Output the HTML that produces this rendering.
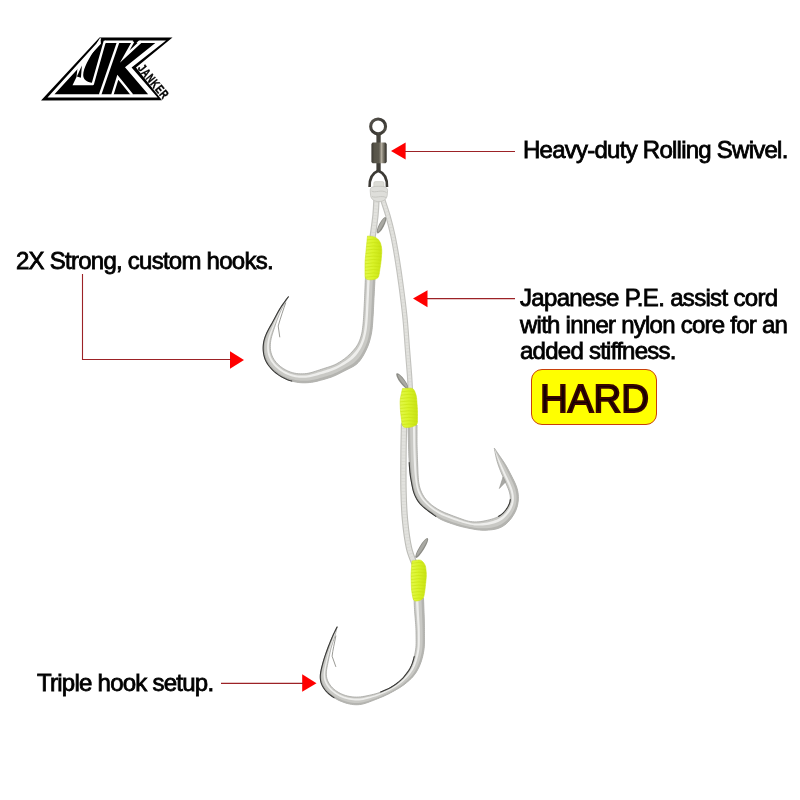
<!DOCTYPE html>
<html><head><meta charset="utf-8">
<style>
html,body{margin:0;padding:0;background:#fff;width:800px;height:800px;overflow:hidden}
.t{position:absolute;font-family:"Liberation Sans",sans-serif;font-size:24px;letter-spacing:-0.75px;color:#000;white-space:nowrap;line-height:26.5px;-webkit-text-stroke:0.8px #000;will-change:transform}
svg{position:absolute;left:0;top:0;will-change:transform}
</style></head><body>
<svg width="800" height="800" viewBox="0 0 800 800">
  <!-- arrows -->
  <g fill="#ff0000">
    <polygon points="391,151 405.6,142.4 405.6,159.4"/>
    <polygon points="413,298.6 427.5,290.3 427.5,307.2"/>
    <polygon points="244,360 230,351.25 230,368.75"/>
    <polygon points="316.5,683.2 302.2,674.25 302.2,691.75"/>
  </g>
  <g stroke="#9c2226" stroke-width="1.1" fill="none">
    <line x1="405" y1="151.5" x2="515" y2="151.5"/>
    <line x1="427" y1="298.6" x2="515" y2="298.6"/>
    <polyline points="82.5,274 82.5,359.5 231,359.5"/>
    <line x1="221" y1="683.4" x2="303" y2="683.4"/>
  </g>
  <!-- logo -->
  <g id="logo">
    <polygon fill="#000" points="41,100.5 99.5,37.5 172.5,37.5 136,67.4 162,100.2"/>
    <path fill="#fff" fill-rule="evenodd" d="M47.5,97.5 L99.2,40.5 L166,40.5 L131.6,67.4 L157.6,97.5 Z M54.5,94.25 L101.6,43 L155.3,43 L125,67.2 L148.1,94.25 Z"/>
    <polygon fill="#000" points="100.5,39 104.6,39 104.6,44.5 101,44.5"/>
    <polygon fill="#fff" points="96.6,43.4 99.8,38.2 101.2,38.2 99.6,43.4"/>
    <polygon fill="#000" points="133.6,39 140.2,39 128,52"/>
    <g stroke="#fff" stroke-width="2.4" fill="none" stroke-linejoin="miter" stroke-miterlimit="10">
      <polyline points="92.6,84.6 104.6,42 106,42"/>
      <line x1="100" y1="95" x2="118.2" y2="42"/>
      <polyline points="133.2,41.5 124.7,56.7 141,41.5"/>
      <polyline points="112.3,95 117.8,77.3 132.2,95"/>
    </g>
    <path fill="#fff" d="M72.5,85.2 L76.5,77 L77.6,67 L96.6,46.8 C88.5,59 83.4,68 83.2,75 C83.2,79.5 86.5,82 92.7,83 L93.2,85.2 Z"/>
    <polygon fill="#000" points="76.9,76.6 81.9,65.4 80.9,77.8"/>
    <g transform="translate(137.2,68.6) rotate(50.5)"><text x="0" y="0" transform="scale(0.72,1)" font-family="Liberation Sans" font-weight="bold" font-size="12.5" letter-spacing="0.9" fill="#000" stroke="#000" stroke-width="0.35">JANKER</text></g>
  </g>
  <!-- product -->
  <g id="product">
    <path d="M382.50,199.00 C383.42,201.83 386.25,209.83 388.00,216.00 C389.75,222.17 391.50,229.00 393.00,236.00 C394.50,243.00 395.67,249.83 397.00,258.00 C398.33,266.17 399.67,275.00 401.00,285.00 C402.33,295.00 403.92,307.17 405.00,318.00 C406.08,328.83 406.75,340.50 407.50,350.00 C408.25,359.50 409.00,368.00 409.50,375.00 C410.00,382.00 410.33,389.17 410.50,392.00" fill="none" stroke="#c2c2be" stroke-width="5.4" stroke-linecap="round"/>
    <path d="M382.50,199.00 C383.42,201.83 386.25,209.83 388.00,216.00 C389.75,222.17 391.50,229.00 393.00,236.00 C394.50,243.00 395.67,249.83 397.00,258.00 C398.33,266.17 399.67,275.00 401.00,285.00 C402.33,295.00 403.92,307.17 405.00,318.00 C406.08,328.83 406.75,340.50 407.50,350.00 C408.25,359.50 409.00,368.00 409.50,375.00 C410.00,382.00 410.33,389.17 410.50,392.00" fill="none" stroke="#e2e2de" stroke-width="3.2" stroke-linecap="round"/>
    <path d="M382.50,199.00 C383.42,201.83 386.25,209.83 388.00,216.00 C389.75,222.17 391.50,229.00 393.00,236.00 C394.50,243.00 395.67,249.83 397.00,258.00 C398.33,266.17 399.67,275.00 401.00,285.00 C402.33,295.00 403.92,307.17 405.00,318.00 C406.08,328.83 406.75,340.50 407.50,350.00 C408.25,359.50 409.00,368.00 409.50,375.00 C410.00,382.00 410.33,389.17 410.50,392.00" fill="none" stroke="#c8c8c2" stroke-width="3" stroke-dasharray="0.7 2.6" opacity="0.4"/>
    <path d="M404.00,425.00 C403.92,430.00 403.58,444.17 403.50,455.00 C403.42,465.83 403.25,479.17 403.50,490.00 C403.75,500.83 404.08,510.33 405.00,520.00 C405.92,529.67 407.33,540.50 409.00,548.00 C410.67,555.50 414.00,562.17 415.00,565.00" fill="none" stroke="#bdbdb8" stroke-width="6.4" stroke-linecap="round"/>
    <path d="M404.00,425.00 C403.92,430.00 403.58,444.17 403.50,455.00 C403.42,465.83 403.25,479.17 403.50,490.00 C403.75,500.83 404.08,510.33 405.00,520.00 C405.92,529.67 407.33,540.50 409.00,548.00 C410.67,555.50 414.00,562.17 415.00,565.00" fill="none" stroke="#e2e2de" stroke-width="4.2" stroke-linecap="round"/>
    <path d="M404.00,425.00 C403.92,430.00 403.58,444.17 403.50,455.00 C403.42,465.83 403.25,479.17 403.50,490.00 C403.75,500.83 404.08,510.33 405.00,520.00 C405.92,529.67 407.33,540.50 409.00,548.00 C410.67,555.50 414.00,562.17 415.00,565.00" fill="none" stroke="#c8c8c2" stroke-width="4" stroke-dasharray="0.7 2.6" opacity="0.4"/>
    <path d="M375.20,276.00 L374.97,279.98 L374.89,281.39 L374.79,283.12 L374.68,285.10 L374.56,287.25 L374.44,289.46 L374.33,291.71 L374.21,293.95 L374.10,296.20 L373.99,298.44 L373.89,300.68 L373.78,302.93 L373.67,305.17 L373.56,307.42 L373.45,309.66 L373.34,311.91 L373.22,314.15 L373.09,316.40 L372.95,318.64 L372.80,320.88 L372.64,323.12 L372.46,325.36 L372.26,327.60 L372.01,329.82 L371.69,332.04 L371.29,334.24 L370.82,336.43 L370.30,338.61 L369.71,340.78 L369.06,342.92 L368.33,345.03 L367.50,347.10 L366.59,349.15 L365.62,351.17 L364.60,353.16 L363.53,355.13 L362.39,357.05 L361.17,358.92 L359.85,360.70 L358.42,362.37 L356.85,363.88 L355.14,365.22 L353.29,366.41 L351.35,367.47 L349.36,368.48 L347.35,369.47 L345.34,370.47 L343.34,371.49 L341.35,372.52 L339.35,373.55 L337.35,374.55 L335.31,375.49 L333.25,376.35 L331.15,377.13 L329.03,377.85 L326.89,378.53 L324.74,379.17 L322.58,379.79 L320.41,380.37 L318.24,380.93 L316.05,381.45 L313.86,381.90 L311.66,382.27 L309.44,382.54 L307.21,382.71 L304.98,382.80 L302.74,382.79 L300.52,382.68 L298.30,382.45 L296.09,382.10 L293.91,381.65 L291.74,381.09 L289.61,380.44 L287.50,379.69 L285.44,378.83 L283.43,377.87 L281.47,376.80 L279.57,375.63 L277.73,374.37 L275.96,373.01 L274.25,371.57 L272.62,370.05 L271.08,368.44 L269.62,366.76 L268.29,364.99 L267.08,363.13 L266.02,361.19 L265.12,359.18 L264.41,357.10 L263.86,354.96 L263.48,352.78 L263.25,350.57 L263.16,348.35 L263.23,346.13 L263.43,343.92 L263.78,341.73 L264.29,339.58 L264.94,337.45 L265.73,335.37 L266.62,333.32 L267.59,331.31 L268.62,329.31 L269.69,327.34 L270.78,325.38 L271.88,323.41 L272.96,321.45 L274.03,319.47 L275.10,317.49 L276.15,315.51 L277.21,313.53 L278.29,311.56 L279.40,309.61 L280.56,307.69 L281.76,305.84 L282.98,304.07 L284.14,302.46 L285.16,301.07 L286.00,299.94 L288.40,296.75 L288.40,296.75 L286.64,299.79 L286.02,300.87 L285.27,302.19 L284.42,303.72 L283.52,305.39 L282.64,307.12 L281.77,308.90 L280.94,310.70 L280.14,312.51 L279.35,314.32 L278.59,316.15 L277.85,317.98 L277.15,319.83 L276.48,321.69 L275.83,323.56 L275.19,325.44 L274.57,327.31 L273.95,329.19 L273.33,331.08 L272.73,332.96 L272.16,334.85 L271.62,336.75 L271.16,338.66 L270.78,340.59 L270.51,342.54 L270.34,344.49 L270.28,346.45 L270.35,348.40 L270.56,350.33 L270.93,352.24 L271.46,354.11 L272.15,355.93 L272.98,357.69 L273.95,359.38 L275.05,360.99 L276.26,362.51 L277.59,363.95 L279.01,365.28 L280.52,366.54 L282.10,367.71 L283.74,368.79 L285.43,369.78 L287.18,370.68 L288.97,371.47 L290.80,372.15 L292.68,372.72 L294.59,373.16 L296.52,373.50 L298.47,373.72 L300.43,373.83 L302.40,373.84 L304.36,373.75 L306.31,373.56 L308.25,373.25 L310.16,372.83 L312.06,372.32 L313.95,371.75 L315.83,371.14 L317.71,370.52 L319.59,369.90 L321.47,369.28 L323.35,368.67 L325.24,368.07 L327.13,367.48 L329.01,366.88 L330.88,366.26 L332.73,365.58 L334.54,364.83 L336.30,363.97 L338.03,363.02 L339.71,362.00 L341.37,360.94 L343.01,359.83 L344.60,358.67 L346.15,357.45 L347.64,356.17 L349.08,354.82 L350.49,353.44 L351.86,352.02 L353.20,350.57 L354.49,349.08 L355.72,347.54 L356.84,345.95 L357.85,344.28 L358.73,342.54 L359.50,340.74 L360.19,338.90 L360.80,337.03 L361.34,335.14 L361.79,333.23 L362.15,331.29 L362.44,329.34 L362.69,327.38 L362.91,325.42 L363.11,323.45 L363.29,321.48 L363.45,319.50 L363.59,317.53 L363.71,315.55 L363.82,313.58 L363.92,311.60 L364.02,309.62 L364.12,307.65 L364.22,305.67 L364.31,303.69 L364.41,301.71 L364.50,299.74 L364.59,297.76 L364.67,295.78 L364.76,293.80 L364.84,291.82 L364.92,289.85 L365.01,287.87 L365.09,285.92 L365.17,284.03 L365.24,282.27 L365.30,280.75 L365.35,279.51 L365.50,276.00 Z" fill="#c9c9c5" stroke="#a6a6a2" stroke-width="0.8"/>
    <path d="M375.20,276.00 L374.97,279.98 L374.89,281.39 L374.79,283.12 L374.68,285.10 L374.56,287.25 L374.44,289.46 L374.33,291.71 L374.21,293.95 L374.10,296.20 L373.99,298.44 L373.89,300.68 L373.78,302.93 L373.67,305.17 L373.56,307.42 L373.45,309.66 L373.34,311.91 L373.22,314.15 L373.09,316.40 L372.95,318.64 L372.80,320.88 L372.64,323.12 L372.46,325.36 L372.26,327.60 L372.01,329.82 L371.69,332.04 L371.29,334.24 L370.82,336.43 L370.30,338.61 L369.71,340.78 L369.06,342.92 L368.33,345.03 L367.50,347.10 L366.59,349.15 L365.62,351.17 L364.60,353.16 L363.53,355.13 L362.39,357.05 L361.17,358.92 L359.85,360.70 L358.42,362.37 L356.85,363.88 L355.14,365.22 L353.29,366.41 L351.35,367.47 L349.36,368.48 L347.35,369.47 L345.34,370.47 L343.34,371.49 L341.35,372.52 L339.35,373.55 L337.35,374.55 L335.31,375.49 L333.25,376.35 L331.15,377.13 L329.03,377.85 L326.89,378.53 L324.74,379.17 L322.58,379.79 L320.41,380.37 L318.24,380.93 L316.05,381.45 L313.86,381.90 L311.66,382.27 L309.44,382.54 L307.21,382.71 L304.98,382.80 L302.74,382.79 L300.52,382.68 L298.30,382.45 L296.09,382.10 L293.91,381.65 L291.74,381.09 L289.61,380.44 L287.50,379.69 L285.44,378.83 L283.43,377.87 L281.47,376.80 L279.57,375.63 L277.73,374.37 L275.96,373.01 L274.25,371.57 L272.62,370.05 L271.08,368.44 L269.62,366.76 L268.29,364.99 L267.08,363.13 L266.02,361.19 L265.12,359.18 L264.41,357.10 L263.86,354.96 L263.48,352.78 L263.25,350.57 L263.16,348.35 L263.23,346.13 L263.43,343.92 L263.78,341.73 L264.29,339.58 L264.94,337.45 L265.73,335.37 L266.62,333.32 L267.59,331.31 L268.62,329.31 L269.69,327.34 L270.78,325.38 L271.88,323.41 L272.96,321.45 L274.03,319.47 L275.10,317.49 L276.15,315.51 L277.21,313.53 L278.29,311.56 L279.40,309.61 L280.56,307.69 L281.76,305.84 L282.98,304.07 L284.14,302.46 L285.16,301.07 L286.00,299.94 L288.40,296.75 L288.40,296.75 L286.14,299.91 L285.35,301.02 L284.39,302.40 L283.29,304.00 L282.15,305.74 L281.02,307.57 L279.92,309.45 L278.87,311.37 L277.86,313.30 L276.86,315.25 L275.87,317.20 L274.87,319.14 L273.88,321.09 L272.89,323.03 L271.89,324.98 L270.90,326.92 L269.93,328.87 L268.99,330.84 L268.10,332.83 L267.27,334.84 L266.53,336.88 L265.90,338.95 L265.41,341.06 L265.05,343.19 L264.83,345.34 L264.74,347.50 L264.79,349.66 L264.99,351.81 L265.34,353.94 L265.84,356.03 L266.52,358.06 L267.37,360.04 L268.38,361.93 L269.53,363.75 L270.82,365.49 L272.22,367.14 L273.72,368.70 L275.30,370.19 L276.96,371.59 L278.69,372.90 L280.49,374.13 L282.34,375.26 L284.25,376.29 L286.22,377.21 L288.23,378.03 L290.28,378.74 L292.37,379.35 L294.48,379.85 L296.62,380.26 L298.77,380.55 L300.93,380.74 L303.10,380.81 L305.27,380.77 L307.44,380.63 L309.60,380.40 L311.75,380.08 L313.88,379.67 L316.00,379.18 L318.12,378.64 L320.23,378.07 L322.33,377.48 L324.43,376.86 L326.53,376.23 L328.61,375.57 L330.68,374.88 L332.73,374.13 L334.75,373.31 L336.73,372.41 L338.68,371.44 L340.61,370.43 L342.54,369.40 L344.47,368.37 L346.39,367.35 L348.31,366.32 L350.21,365.27 L352.05,364.15 L353.81,362.93 L355.45,361.58 L356.98,360.09 L358.39,358.47 L359.70,356.75 L360.92,354.96 L362.06,353.11 L363.11,351.21 L364.10,349.27 L365.03,347.30 L365.89,345.30 L366.67,343.27 L367.37,341.21 L367.97,339.12 L368.51,337.00 L368.98,334.87 L369.40,332.73 L369.76,330.58 L370.05,328.42 L370.29,326.25 L370.48,324.07 L370.65,321.89 L370.80,319.71 L370.94,317.52 L371.07,315.34 L371.20,313.16 L371.31,310.97 L371.42,308.78 L371.53,306.60 L371.63,304.41 L371.74,302.23 L371.84,300.04 L371.94,297.86 L372.05,295.67 L372.15,293.48 L372.26,291.30 L372.37,289.11 L372.48,286.96 L372.59,284.87 L372.69,282.93 L372.78,281.25 L372.86,279.88 L373.07,276.00 Z" fill="#b4b4b0"/>
    <path d="M369.87,276.00 L369.68,279.72 L369.62,281.04 L369.54,282.65 L369.45,284.51 L369.35,286.52 L369.25,288.59 L369.15,290.68 L369.06,292.78 L368.96,294.88 L368.87,296.98 L368.77,299.08 L368.67,301.17 L368.58,303.27 L368.47,305.37 L368.37,307.47 L368.27,309.56 L368.16,311.66 L368.05,313.76 L367.93,315.85 L367.80,317.95 L367.66,320.05 L367.51,322.14 L367.33,324.23 L367.11,326.32 L366.86,328.40 L366.56,330.47 L366.22,332.53 L365.82,334.59 L365.36,336.62 L364.82,338.64 L364.19,340.63 L363.48,342.59 L362.69,344.52 L361.83,346.42 L360.89,348.28 L359.85,350.08 L358.72,351.82 L357.50,353.51 L356.20,355.13 L354.81,356.67 L353.35,358.14 L351.81,359.50 L350.18,360.77 L348.49,361.96 L346.74,363.08 L344.96,364.17 L343.16,365.23 L341.34,366.27 L339.52,367.30 L337.68,368.28 L335.80,369.20 L333.89,370.04 L331.95,370.80 L329.97,371.49 L327.98,372.15 L325.98,372.78 L323.98,373.40 L321.97,374.01 L319.96,374.61 L317.95,375.21 L315.93,375.78 L313.91,376.32 L311.88,376.80 L309.84,377.20 L307.78,377.51 L305.71,377.72 L303.63,377.82 L301.55,377.82 L299.47,377.71 L297.40,377.49 L295.35,377.16 L293.31,376.73 L291.30,376.19 L289.32,375.54 L287.38,374.78 L285.49,373.92 L283.65,372.94 L281.86,371.87 L280.13,370.70 L278.47,369.45 L276.87,368.11 L275.36,366.69 L273.93,365.18 L272.61,363.58 L271.40,361.90 L270.33,360.14 L269.39,358.30 L268.61,356.39 L267.99,354.43 L267.55,352.41 L267.26,350.37 L267.12,348.30 L267.11,346.23 L267.23,344.15 L267.47,342.09 L267.84,340.04 L268.32,338.02 L268.91,336.02 L269.58,334.05 L270.31,332.09 L271.09,330.14 L271.89,328.21 L272.72,326.29 L273.56,324.38 L274.41,322.47 L275.27,320.56 L276.14,318.65 L277.02,316.75 L277.91,314.86 L278.82,312.97 L279.75,311.09 L280.70,309.22 L281.70,307.38 L282.73,305.59 L283.77,303.88 L284.76,302.31 L285.64,300.96 L286.35,299.86 L288.40,296.75 L288.40,296.75 L286.51,299.82 L285.85,300.91 L285.04,302.25 L284.13,303.79 L283.17,305.48 L282.22,307.24 L281.30,309.04 L280.41,310.87 L279.55,312.71 L278.71,314.56 L277.89,316.42 L277.09,318.28 L276.31,320.15 L275.56,322.04 L274.82,323.92 L274.09,325.82 L273.38,327.71 L272.68,329.62 L271.99,331.53 L271.33,333.44 L270.72,335.37 L270.16,337.32 L269.68,339.28 L269.31,341.26 L269.05,343.25 L268.90,345.26 L268.87,347.27 L268.97,349.27 L269.22,351.26 L269.62,353.21 L270.19,355.12 L270.92,356.98 L271.80,358.77 L272.82,360.50 L273.97,362.14 L275.23,363.70 L276.60,365.17 L278.06,366.54 L279.61,367.83 L281.22,369.04 L282.90,370.16 L284.64,371.19 L286.43,372.12 L288.26,372.94 L290.14,373.66 L292.07,374.26 L294.02,374.75 L296.00,375.13 L298.00,375.40 L300.01,375.56 L302.02,375.61 L304.04,375.56 L306.04,375.41 L308.04,375.14 L310.02,374.77 L311.98,374.31 L313.93,373.78 L315.87,373.20 L317.82,372.60 L319.75,372.00 L321.69,371.38 L323.63,370.77 L325.57,370.16 L327.51,369.55 L329.44,368.93 L331.36,368.28 L333.25,367.56 L335.10,366.77 L336.91,365.89 L338.69,364.92 L340.44,363.90 L342.17,362.84 L343.87,361.76 L345.55,360.63 L347.19,359.45 L348.77,358.21 L350.29,356.90 L351.76,355.53 L353.18,354.09 L354.53,352.59 L355.83,351.05 L357.05,349.44 L358.18,347.78 L359.20,346.06 L360.11,344.27 L360.92,342.42 L361.65,340.54 L362.31,338.63 L362.89,336.70 L363.38,334.74 L363.78,332.76 L364.12,330.76 L364.41,328.75 L364.66,326.74 L364.89,324.72 L365.08,322.70 L365.25,320.68 L365.40,318.65 L365.53,316.62 L365.64,314.59 L365.75,312.56 L365.86,310.53 L365.96,308.50 L366.06,306.47 L366.16,304.44 L366.26,302.41 L366.35,300.37 L366.45,298.34 L366.54,296.31 L366.63,294.28 L366.72,292.25 L366.80,290.22 L366.89,288.19 L366.98,286.18 L367.07,284.24 L367.15,282.44 L367.22,280.88 L367.28,279.61 L367.44,276.00 Z" fill="#eeeeec"/>
    <path d="M291.74,381.09 L289.61,380.44 L287.50,379.69 L285.44,378.83 L283.43,377.87 L281.47,376.80 L279.57,375.63 L277.73,374.37 L275.96,373.01 L274.25,371.57 L272.62,370.05 L271.08,368.44 L269.62,366.76 L268.29,364.99 L267.08,363.13 L266.02,361.19 L265.12,359.18 L264.41,357.10 L263.86,354.96 L263.48,352.78 L263.25,350.57 L263.16,348.35 L263.23,346.13 L263.43,343.92 L263.78,341.73 L264.29,339.58 L264.94,337.45 L265.73,335.37 L266.62,333.32 L267.59,331.31 L268.62,329.31 L269.69,327.34 L270.78,325.38 L271.88,323.41 L272.96,321.45 L274.03,319.47 L275.10,317.49 L276.15,315.51 L277.21,313.53 L278.29,311.56 L279.40,309.61 L280.56,307.69 L281.76,305.84 L282.98,304.07 L284.14,302.46 L285.16,301.07 L286.00,299.94 L288.40,296.75" fill="none" stroke="#3a3a38" stroke-width="1.1" stroke-linecap="round"/>
    <path d="M408.00,425.00 L408.10,428.91 L408.13,430.29 L408.17,431.99 L408.22,433.94 L408.28,436.05 L408.33,438.23 L408.39,440.43 L408.45,442.63 L408.51,444.84 L408.58,447.04 L408.64,449.25 L408.72,451.45 L408.79,453.65 L408.88,455.86 L408.97,458.06 L409.07,460.26 L409.19,462.46 L409.32,464.67 L409.47,466.86 L409.63,469.06 L409.82,471.26 L410.05,473.44 L410.34,475.63 L410.68,477.80 L411.06,479.97 L411.46,482.14 L411.86,484.30 L412.28,486.46 L412.74,488.61 L413.28,490.73 L413.93,492.82 L414.68,494.87 L415.56,496.86 L416.56,498.79 L417.70,500.64 L418.98,502.39 L420.38,504.06 L421.90,505.62 L423.51,507.11 L425.19,508.52 L426.91,509.88 L428.67,511.21 L430.44,512.52 L432.23,513.81 L434.03,515.09 L435.84,516.33 L437.68,517.53 L439.55,518.66 L441.48,519.69 L443.46,520.62 L445.49,521.44 L447.55,522.21 L449.62,522.94 L451.71,523.66 L453.80,524.36 L455.89,525.05 L458.00,525.69 L460.11,526.29 L462.24,526.84 L464.39,527.33 L466.54,527.79 L468.70,528.24 L470.87,528.67 L473.03,529.08 L475.19,529.47 L477.37,529.80 L479.54,530.04 L481.73,530.18 L483.92,530.22 L486.11,530.18 L488.31,530.07 L490.50,529.89 L492.68,529.63 L494.83,529.27 L496.94,528.77 L498.99,528.10 L500.96,527.25 L502.85,526.22 L504.65,525.02 L506.35,523.68 L507.93,522.20 L509.40,520.61 L510.78,518.91 L512.07,517.15 L513.28,515.32 L514.39,513.45 L515.38,511.51 L516.23,509.51 L516.93,507.45 L517.49,505.34 L517.91,503.20 L518.19,501.04 L518.34,498.86 L518.35,496.67 L518.23,494.50 L517.95,492.33 L517.53,490.20 L516.96,488.10 L516.25,486.03 L515.43,484.00 L514.54,481.99 L513.59,480.01 L512.60,478.04 L511.60,476.07 L510.59,474.11 L509.58,472.15 L508.57,470.19 L507.54,468.25 L506.47,466.33 L505.35,464.44 L504.17,462.58 L502.95,460.74 L501.71,458.92 L500.48,457.13 L499.28,455.40 L498.18,453.79 L497.22,452.38 L496.45,451.24 L494.25,448.00 L494.25,448.00 L494.89,451.41 L495.12,452.61 L495.40,454.09 L495.75,455.78 L496.15,457.60 L496.60,459.47 L497.12,461.35 L497.69,463.21 L498.31,465.06 L498.96,466.91 L499.64,468.74 L500.35,470.55 L501.09,472.36 L501.85,474.16 L502.63,475.95 L503.41,477.74 L504.20,479.53 L505.00,481.31 L505.80,483.09 L506.60,484.88 L507.38,486.66 L508.12,488.46 L508.80,490.29 L509.39,492.13 L509.87,494.00 L510.19,495.88 L510.34,497.78 L510.28,499.66 L510.00,501.53 L509.49,503.34 L508.78,505.10 L507.90,506.79 L506.88,508.43 L505.77,510.01 L504.56,511.51 L503.26,512.92 L501.84,514.19 L500.31,515.33 L498.68,516.34 L496.97,517.22 L495.20,517.98 L493.38,518.64 L491.52,519.21 L489.64,519.71 L487.75,520.18 L485.84,520.61 L483.94,521.01 L482.02,521.36 L480.10,521.63 L478.17,521.81 L476.23,521.90 L474.29,521.89 L472.36,521.78 L470.45,521.55 L468.56,521.18 L466.69,520.70 L464.83,520.14 L462.98,519.52 L461.14,518.87 L459.30,518.20 L457.47,517.53 L455.64,516.84 L453.81,516.16 L451.98,515.47 L450.16,514.77 L448.33,514.08 L446.51,513.37 L444.71,512.63 L442.92,511.85 L441.17,511.01 L439.45,510.10 L437.76,509.13 L436.10,508.11 L434.47,507.04 L432.89,505.92 L431.36,504.72 L429.90,503.45 L428.48,502.12 L427.13,500.73 L425.85,499.27 L424.67,497.75 L423.60,496.15 L422.63,494.48 L421.75,492.75 L420.97,490.98 L420.29,489.17 L419.74,487.32 L419.29,485.44 L418.93,483.53 L418.64,481.61 L418.42,479.67 L418.25,477.73 L418.13,475.78 L418.03,473.83 L417.95,471.88 L417.87,469.93 L417.80,467.97 L417.73,466.02 L417.65,464.07 L417.58,462.12 L417.51,460.16 L417.44,458.21 L417.38,456.26 L417.31,454.31 L417.25,452.35 L417.18,450.40 L417.13,448.45 L417.08,446.49 L417.04,444.54 L417.02,442.59 L417.01,440.63 L417.00,438.68 L417.00,436.72 L417.00,434.80 L417.00,432.93 L417.00,431.20 L417.00,429.69 L417.00,428.47 L417.00,425.00 Z" fill="#c9c9c5" stroke="#a6a6a2" stroke-width="0.8"/>
    <path d="M408.00,425.00 L408.10,428.91 L408.13,430.29 L408.17,431.99 L408.22,433.94 L408.28,436.05 L408.33,438.23 L408.39,440.43 L408.45,442.63 L408.51,444.84 L408.58,447.04 L408.64,449.25 L408.72,451.45 L408.79,453.65 L408.88,455.86 L408.97,458.06 L409.07,460.26 L409.19,462.46 L409.32,464.67 L409.47,466.86 L409.63,469.06 L409.82,471.26 L410.05,473.44 L410.34,475.63 L410.68,477.80 L411.06,479.97 L411.46,482.14 L411.86,484.30 L412.28,486.46 L412.74,488.61 L413.28,490.73 L413.93,492.82 L414.68,494.87 L415.56,496.86 L416.56,498.79 L417.70,500.64 L418.98,502.39 L420.38,504.06 L421.90,505.62 L423.51,507.11 L425.19,508.52 L426.91,509.88 L428.67,511.21 L430.44,512.52 L432.23,513.81 L434.03,515.09 L435.84,516.33 L437.68,517.53 L439.55,518.66 L441.48,519.69 L443.46,520.62 L445.49,521.44 L447.55,522.21 L449.62,522.94 L451.71,523.66 L453.80,524.36 L455.89,525.05 L458.00,525.69 L460.11,526.29 L462.24,526.84 L464.39,527.33 L466.54,527.79 L468.70,528.24 L470.87,528.67 L473.03,529.08 L475.19,529.47 L477.37,529.80 L479.54,530.04 L481.73,530.18 L483.92,530.22 L486.11,530.18 L488.31,530.07 L490.50,529.89 L492.68,529.63 L494.83,529.27 L496.94,528.77 L498.99,528.10 L500.96,527.25 L502.85,526.22 L504.65,525.02 L506.35,523.68 L507.93,522.20 L509.40,520.61 L510.78,518.91 L512.07,517.15 L513.28,515.32 L514.39,513.45 L515.38,511.51 L516.23,509.51 L516.93,507.45 L517.49,505.34 L517.91,503.20 L518.19,501.04 L518.34,498.86 L518.35,496.67 L518.23,494.50 L517.95,492.33 L517.53,490.20 L516.96,488.10 L516.25,486.03 L515.43,484.00 L514.54,481.99 L513.59,480.01 L512.60,478.04 L511.60,476.07 L510.59,474.11 L509.58,472.15 L508.57,470.19 L507.54,468.25 L506.47,466.33 L505.35,464.44 L504.17,462.58 L502.95,460.74 L501.71,458.92 L500.48,457.13 L499.28,455.40 L498.18,453.79 L497.22,452.38 L496.45,451.24 L494.25,448.00 L494.25,448.00 L496.10,451.28 L496.76,452.43 L497.57,453.85 L498.50,455.48 L499.52,457.24 L500.59,459.04 L501.67,460.88 L502.75,462.72 L503.80,464.57 L504.82,466.45 L505.80,468.36 L506.76,470.27 L507.71,472.20 L508.67,474.12 L509.62,476.05 L510.58,477.97 L511.52,479.90 L512.44,481.84 L513.31,483.80 L514.13,485.78 L514.85,487.78 L515.46,489.82 L515.94,491.88 L516.28,493.98 L516.48,496.09 L516.55,498.20 L516.47,500.32 L516.23,502.42 L515.84,504.50 L515.30,506.54 L514.59,508.54 L513.73,510.47 L512.74,512.34 L511.63,514.16 L510.42,515.91 L509.12,517.59 L507.74,519.19 L506.26,520.69 L504.66,522.06 L502.96,523.30 L501.17,524.40 L499.29,525.35 L497.35,526.14 L495.33,526.77 L493.27,527.27 L491.17,527.65 L489.06,527.94 L486.93,528.15 L484.79,528.30 L482.65,528.37 L480.52,528.36 L478.39,528.25 L476.26,528.03 L474.15,527.73 L472.05,527.35 L469.95,526.91 L467.85,526.45 L465.76,525.97 L463.67,525.47 L461.60,524.94 L459.53,524.37 L457.48,523.75 L455.43,523.09 L453.40,522.40 L451.37,521.70 L449.34,520.99 L447.32,520.26 L445.32,519.50 L443.34,518.69 L441.41,517.78 L439.53,516.78 L437.70,515.69 L435.90,514.52 L434.13,513.32 L432.37,512.07 L430.65,510.80 L428.94,509.50 L427.26,508.17 L425.62,506.80 L424.03,505.38 L422.51,503.89 L421.09,502.32 L419.78,500.65 L418.59,498.90 L417.53,497.07 L416.60,495.17 L415.80,493.21 L415.11,491.19 L414.52,489.15 L414.04,487.07 L413.63,484.97 L413.26,482.85 L412.92,480.74 L412.59,478.62 L412.28,476.50 L412.00,474.37 L411.76,472.24 L411.56,470.11 L411.40,467.96 L411.25,465.82 L411.12,463.67 L411.01,461.53 L410.90,459.38 L410.80,457.23 L410.72,455.09 L410.64,452.94 L410.57,450.79 L410.50,448.64 L410.44,446.49 L410.38,444.34 L410.33,442.19 L410.28,440.04 L410.24,437.90 L410.20,435.78 L410.15,433.72 L410.12,431.82 L410.08,430.16 L410.06,428.82 L409.98,425.00 Z" fill="#b4b4b0"/>
    <path d="M412.95,425.00 L412.99,428.67 L413.01,429.96 L413.03,431.56 L413.05,433.39 L413.07,435.36 L413.10,437.40 L413.13,439.47 L413.16,441.53 L413.19,443.60 L413.23,445.67 L413.28,447.73 L413.34,449.80 L413.41,451.86 L413.48,453.93 L413.56,456.00 L413.64,458.06 L413.73,460.13 L413.83,462.19 L413.93,464.25 L414.04,466.32 L414.17,468.38 L414.31,470.44 L414.48,472.49 L414.68,474.54 L414.89,476.59 L415.12,478.64 L415.37,480.69 L415.65,482.73 L415.99,484.76 L416.39,486.77 L416.87,488.76 L417.46,490.72 L418.16,492.63 L418.99,494.50 L419.93,496.30 L420.99,498.04 L422.15,499.71 L423.43,501.29 L424.80,502.80 L426.26,504.23 L427.78,505.61 L429.34,506.94 L430.95,508.23 L432.59,509.47 L434.27,510.66 L435.98,511.81 L437.72,512.91 L439.50,513.95 L441.31,514.92 L443.16,515.79 L445.06,516.60 L446.98,517.35 L448.91,518.07 L450.85,518.77 L452.80,519.47 L454.75,520.16 L456.70,520.83 L458.66,521.47 L460.63,522.09 L462.60,522.68 L464.58,523.24 L466.57,523.78 L468.57,524.29 L470.57,524.74 L472.59,525.11 L474.61,525.39 L476.65,525.56 L478.70,525.62 L480.76,525.60 L482.81,525.48 L484.85,525.28 L486.89,525.01 L488.92,524.67 L490.93,524.27 L492.92,523.79 L494.88,523.21 L496.79,522.51 L498.64,521.69 L500.43,520.73 L502.13,519.64 L503.74,518.42 L505.25,517.08 L506.64,515.61 L507.94,514.05 L509.15,512.40 L510.26,510.69 L511.27,508.92 L512.13,507.08 L512.84,505.19 L513.37,503.24 L513.71,501.26 L513.88,499.24 L513.86,497.22 L513.68,495.20 L513.37,493.20 L512.92,491.21 L512.36,489.25 L511.69,487.31 L510.94,485.40 L510.14,483.50 L509.29,481.62 L508.43,479.74 L507.55,477.87 L506.66,476.01 L505.78,474.14 L504.91,472.27 L504.05,470.39 L503.20,468.52 L502.34,466.65 L501.48,464.78 L500.61,462.93 L499.75,461.08 L498.90,459.23 L498.10,457.39 L497.34,455.61 L496.65,453.95 L496.06,452.51 L495.59,451.33 L494.25,448.00 L494.25,448.00 L495.20,451.38 L495.54,452.56 L495.96,454.03 L496.46,455.71 L497.01,457.51 L497.63,459.36 L498.29,461.23 L498.99,463.09 L499.72,464.94 L500.46,466.79 L501.22,468.64 L502.00,470.48 L502.79,472.32 L503.60,474.15 L504.42,475.98 L505.25,477.80 L506.08,479.62 L506.91,481.45 L507.73,483.27 L508.53,485.11 L509.30,486.95 L510.00,488.81 L510.63,490.70 L511.16,492.60 L511.56,494.53 L511.82,496.48 L511.91,498.43 L511.81,500.37 L511.50,502.29 L510.98,504.16 L510.27,505.98 L509.40,507.74 L508.39,509.43 L507.27,511.07 L506.06,512.64 L504.76,514.11 L503.36,515.47 L501.84,516.70 L500.21,517.80 L498.51,518.78 L496.73,519.63 L494.89,520.36 L493.01,520.99 L491.10,521.52 L489.16,521.99 L487.21,522.42 L485.25,522.79 L483.28,523.10 L481.30,523.34 L479.32,523.49 L477.33,523.55 L475.34,523.52 L473.36,523.38 L471.40,523.13 L469.45,522.76 L467.52,522.30 L465.60,521.76 L463.69,521.17 L461.79,520.56 L459.89,519.93 L458.00,519.28 L456.11,518.61 L454.23,517.93 L452.35,517.24 L450.47,516.55 L448.59,515.85 L446.72,515.13 L444.86,514.39 L443.03,513.60 L441.23,512.74 L439.47,511.81 L437.74,510.81 L436.05,509.75 L434.38,508.65 L432.76,507.49 L431.18,506.28 L429.65,505.00 L428.17,503.67 L426.74,502.28 L425.39,500.84 L424.12,499.32 L422.96,497.73 L421.90,496.06 L420.94,494.33 L420.09,492.54 L419.35,490.71 L418.73,488.83 L418.21,486.92 L417.80,484.97 L417.46,483.01 L417.19,481.03 L416.97,479.04 L416.79,477.05 L416.64,475.06 L416.50,473.06 L416.37,471.07 L416.25,469.07 L416.15,467.07 L416.05,465.07 L415.96,463.07 L415.87,461.06 L415.79,459.06 L415.72,457.06 L415.64,455.06 L415.57,453.05 L415.51,451.05 L415.45,449.05 L415.39,447.04 L415.35,445.04 L415.32,443.04 L415.30,441.03 L415.28,439.03 L415.27,437.02 L415.26,435.05 L415.24,433.13 L415.23,431.36 L415.23,429.81 L415.22,428.56 L415.20,425.00 Z" fill="#eeeeec"/>
    <path d="M409.19,462.46 L409.32,464.67 L409.47,466.86 L409.63,469.06 L409.82,471.26 L410.05,473.44 L410.34,475.63 L410.68,477.80 L411.06,479.97 L411.46,482.14 L411.86,484.30 L412.28,486.46 L412.74,488.61 L413.28,490.73 L413.93,492.82 L414.68,494.87 L415.56,496.86 L416.56,498.79 L417.70,500.64 L418.98,502.39 L420.38,504.06 L421.90,505.62 L423.51,507.11 L425.19,508.52 L426.91,509.88 L428.67,511.21 L430.44,512.52 L432.23,513.81 L434.03,515.09 L435.84,516.33" fill="none" stroke="#3a3a38" stroke-width="1.1" stroke-linecap="round"/>
    <path d="M510.28,499.66 L510.00,501.53 L509.49,503.34 L508.78,505.10 L507.90,506.79 L506.88,508.43 L505.77,510.01 L504.56,511.51 L503.26,512.92 L501.84,514.19 L500.31,515.33 L498.68,516.34" fill="none" stroke="#3a3a38" stroke-width="1.1" stroke-linecap="round"/>
    <path d="M423.50,598.00 L423.65,601.72 L423.71,603.03 L423.77,604.65 L423.85,606.50 L423.92,608.50 L424.00,610.57 L424.06,612.67 L424.13,614.76 L424.19,616.86 L424.25,618.96 L424.30,621.05 L424.36,623.15 L424.41,625.25 L424.44,627.34 L424.47,629.44 L424.49,631.54 L424.50,633.63 L424.50,635.73 L424.50,637.83 L424.49,639.92 L424.47,642.02 L424.42,644.11 L424.31,646.20 L424.13,648.28 L423.86,650.34 L423.51,652.40 L423.10,654.46 L422.64,656.50 L422.12,658.52 L421.53,660.52 L420.87,662.50 L420.13,664.46 L419.33,666.38 L418.45,668.27 L417.48,670.12 L416.42,671.90 L415.26,673.63 L414.02,675.30 L412.68,676.89 L411.26,678.41 L409.77,679.86 L408.21,681.25 L406.62,682.60 L404.99,683.91 L403.32,685.18 L401.62,686.39 L399.87,687.53 L398.08,688.61 L396.27,689.66 L394.44,690.69 L392.61,691.71 L390.77,692.71 L388.92,693.69 L387.05,694.63 L385.16,695.53 L383.24,696.38 L381.32,697.20 L379.38,697.99 L377.43,698.77 L375.48,699.55 L373.53,700.32 L371.58,701.08 L369.62,701.82 L367.65,702.54 L365.67,703.20 L363.68,703.79 L361.67,704.27 L359.64,704.59 L357.59,704.74 L355.52,704.74 L353.45,704.60 L351.39,704.34 L349.35,703.96 L347.33,703.47 L345.33,702.88 L343.36,702.21 L341.41,701.47 L339.49,700.64 L337.62,699.73 L335.78,698.74 L333.99,697.66 L332.26,696.51 L330.58,695.28 L328.97,693.96 L327.44,692.55 L326.01,691.06 L324.69,689.48 L323.51,687.79 L322.48,686.02 L321.63,684.17 L320.98,682.24 L320.54,680.26 L320.32,678.23 L320.29,676.17 L320.43,674.12 L320.72,672.07 L321.12,670.03 L321.59,667.99 L322.11,665.96 L322.64,663.94 L323.19,661.92 L323.78,659.91 L324.40,657.91 L325.06,655.92 L325.74,653.93 L326.43,651.95 L327.14,649.98 L327.86,648.01 L328.61,646.05 L329.37,644.10 L330.14,642.15 L330.93,640.21 L331.74,638.27 L332.56,636.37 L333.38,634.55 L334.16,632.87 L334.86,631.41 L335.44,630.23 L337.10,626.90 L337.10,626.90 L336.39,630.20 L336.13,631.36 L335.79,632.78 L335.38,634.41 L334.89,636.16 L334.35,637.95 L333.77,639.76 L333.17,641.56 L332.57,643.36 L331.98,645.17 L331.43,646.99 L330.93,648.81 L330.47,650.65 L330.05,652.51 L329.66,654.36 L329.27,656.23 L328.89,658.09 L328.51,659.95 L328.12,661.81 L327.74,663.67 L327.35,665.53 L326.99,667.40 L326.67,669.26 L326.43,671.13 L326.31,673.00 L326.33,674.86 L326.53,676.70 L326.91,678.51 L327.48,680.26 L328.23,681.95 L329.15,683.57 L330.19,685.11 L331.35,686.58 L332.62,687.95 L333.99,689.22 L335.45,690.39 L336.99,691.48 L338.59,692.47 L340.24,693.37 L341.94,694.16 L343.69,694.85 L345.48,695.44 L347.30,695.94 L349.14,696.36 L350.99,696.69 L352.86,696.91 L354.75,697.04 L356.64,697.08 L358.52,697.03 L360.40,696.89 L362.28,696.65 L364.14,696.34 L366.00,695.98 L367.86,695.59 L369.72,695.18 L371.57,694.77 L373.42,694.33 L375.26,693.86 L377.07,693.33 L378.86,692.72 L380.64,692.05 L382.39,691.34 L384.14,690.59 L385.88,689.83 L387.60,689.04 L389.30,688.20 L390.96,687.30 L392.58,686.33 L394.16,685.29 L395.70,684.19 L397.22,683.05 L398.71,681.88 L400.15,680.67 L401.54,679.39 L402.85,678.03 L404.10,676.62 L405.29,675.15 L406.46,673.65 L407.59,672.13 L408.67,670.58 L409.68,669.00 L410.58,667.35 L411.37,665.65 L412.07,663.90 L412.69,662.11 L413.24,660.30 L413.75,658.47 L414.21,656.63 L414.65,654.78 L415.05,652.93 L415.41,651.07 L415.70,649.20 L415.91,647.32 L416.04,645.44 L416.10,643.55 L416.12,641.65 L416.11,639.75 L416.10,637.85 L416.08,635.95 L416.05,634.05 L416.02,632.15 L415.98,630.25 L415.91,628.35 L415.81,626.45 L415.69,624.56 L415.55,622.66 L415.39,620.77 L415.24,618.87 L415.08,616.98 L414.93,615.08 L414.78,613.19 L414.65,611.29 L414.53,609.39 L414.42,607.52 L414.33,605.71 L414.25,604.02 L414.19,602.56 L414.14,601.37 L414.00,598.00 Z" fill="#c9c9c5" stroke="#a6a6a2" stroke-width="0.8"/>
    <path d="M423.50,598.00 L423.65,601.72 L423.71,603.03 L423.77,604.65 L423.85,606.50 L423.92,608.50 L424.00,610.57 L424.06,612.67 L424.13,614.76 L424.19,616.86 L424.25,618.96 L424.30,621.05 L424.36,623.15 L424.41,625.25 L424.44,627.34 L424.47,629.44 L424.49,631.54 L424.50,633.63 L424.50,635.73 L424.50,637.83 L424.49,639.92 L424.47,642.02 L424.42,644.11 L424.31,646.20 L424.13,648.28 L423.86,650.34 L423.51,652.40 L423.10,654.46 L422.64,656.50 L422.12,658.52 L421.53,660.52 L420.87,662.50 L420.13,664.46 L419.33,666.38 L418.45,668.27 L417.48,670.12 L416.42,671.90 L415.26,673.63 L414.02,675.30 L412.68,676.89 L411.26,678.41 L409.77,679.86 L408.21,681.25 L406.62,682.60 L404.99,683.91 L403.32,685.18 L401.62,686.39 L399.87,687.53 L398.08,688.61 L396.27,689.66 L394.44,690.69 L392.61,691.71 L390.77,692.71 L388.92,693.69 L387.05,694.63 L385.16,695.53 L383.24,696.38 L381.32,697.20 L379.38,697.99 L377.43,698.77 L375.48,699.55 L373.53,700.32 L371.58,701.08 L369.62,701.82 L367.65,702.54 L365.67,703.20 L363.68,703.79 L361.67,704.27 L359.64,704.59 L357.59,704.74 L355.52,704.74 L353.45,704.60 L351.39,704.34 L349.35,703.96 L347.33,703.47 L345.33,702.88 L343.36,702.21 L341.41,701.47 L339.49,700.64 L337.62,699.73 L335.78,698.74 L333.99,697.66 L332.26,696.51 L330.58,695.28 L328.97,693.96 L327.44,692.55 L326.01,691.06 L324.69,689.48 L323.51,687.79 L322.48,686.02 L321.63,684.17 L320.98,682.24 L320.54,680.26 L320.32,678.23 L320.29,676.17 L320.43,674.12 L320.72,672.07 L321.12,670.03 L321.59,667.99 L322.11,665.96 L322.64,663.94 L323.19,661.92 L323.78,659.91 L324.40,657.91 L325.06,655.92 L325.74,653.93 L326.43,651.95 L327.14,649.98 L327.86,648.01 L328.61,646.05 L329.37,644.10 L330.14,642.15 L330.93,640.21 L331.74,638.27 L332.56,636.37 L333.38,634.55 L334.16,632.87 L334.86,631.41 L335.44,630.23 L337.10,626.90 L337.10,626.90 L335.65,630.23 L335.14,631.40 L334.52,632.85 L333.82,634.52 L333.07,636.33 L332.31,638.20 L331.56,640.11 L330.81,642.02 L330.07,643.94 L329.35,645.86 L328.65,647.79 L327.97,649.72 L327.32,651.67 L326.68,653.62 L326.07,655.57 L325.48,657.54 L324.91,659.51 L324.36,661.48 L323.85,663.47 L323.34,665.46 L322.86,667.45 L322.41,669.45 L322.03,671.45 L321.75,673.46 L321.61,675.48 L321.64,677.49 L321.86,679.47 L322.28,681.42 L322.91,683.31 L323.74,685.12 L324.75,686.86 L325.90,688.52 L327.18,690.08 L328.58,691.54 L330.08,692.92 L331.65,694.20 L333.30,695.40 L335.00,696.52 L336.76,697.55 L338.57,698.50 L340.42,699.36 L342.30,700.14 L344.22,700.83 L346.17,701.45 L348.14,701.98 L350.12,702.41 L352.13,702.73 L354.15,702.94 L356.18,703.04 L358.21,703.01 L360.22,702.84 L362.21,702.52 L364.19,702.07 L366.15,701.53 L368.11,700.92 L370.05,700.27 L371.99,699.60 L373.91,698.90 L375.83,698.18 L377.75,697.44 L379.65,696.68 L381.55,695.91 L383.44,695.11 L385.32,694.27 L387.17,693.40 L389.00,692.48 L390.81,691.52 L392.60,690.52 L394.38,689.50 L396.15,688.46 L397.89,687.39 L399.61,686.29 L401.30,685.13 L402.93,683.91 L404.52,682.62 L406.06,681.29 L407.57,679.91 L409.04,678.49 L410.46,677.03 L411.80,675.51 L413.06,673.91 L414.23,672.25 L415.31,670.53 L416.29,668.75 L417.18,666.92 L417.99,665.05 L418.73,663.14 L419.40,661.21 L420.02,659.26 L420.56,657.29 L421.05,655.30 L421.48,653.30 L421.84,651.29 L422.14,649.27 L422.36,647.24 L422.51,645.20 L422.59,643.15 L422.63,641.10 L422.64,639.05 L422.64,637.00 L422.63,634.94 L422.62,632.89 L422.60,630.84 L422.56,628.78 L422.52,626.73 L422.46,624.68 L422.39,622.63 L422.31,620.57 L422.23,618.52 L422.15,616.47 L422.07,614.42 L421.99,612.37 L421.91,610.31 L421.83,608.29 L421.75,606.33 L421.68,604.51 L421.61,602.93 L421.56,601.64 L421.41,598.00 Z" fill="#b4b4b0"/>
    <path d="M418.27,598.00 L418.42,601.53 L418.47,602.77 L418.54,604.30 L418.61,606.07 L418.70,607.96 L418.79,609.92 L418.89,611.91 L418.99,613.90 L419.10,615.88 L419.21,617.87 L419.32,619.85 L419.43,621.84 L419.53,623.82 L419.63,625.81 L419.71,627.80 L419.77,629.78 L419.81,631.77 L419.84,633.76 L419.85,635.75 L419.86,637.74 L419.87,639.73 L419.85,641.71 L419.81,643.70 L419.71,645.67 L419.56,647.65 L419.33,649.61 L419.03,651.57 L418.66,653.51 L418.23,655.44 L417.74,657.37 L417.21,659.27 L416.62,661.17 L415.98,663.04 L415.28,664.89 L414.50,666.70 L413.64,668.47 L412.69,670.18 L411.63,671.83 L410.48,673.42 L409.24,674.96 L407.95,676.45 L406.61,677.90 L405.23,679.31 L403.81,680.68 L402.34,681.99 L400.81,683.24 L399.23,684.42 L397.61,685.56 L395.96,686.65 L394.29,687.72 L392.59,688.75 L390.88,689.73 L389.13,690.67 L387.35,691.55 L385.55,692.39 L383.74,693.20 L381.91,693.97 L380.07,694.73 L378.22,695.45 L376.36,696.13 L374.48,696.77 L372.59,697.37 L370.69,697.94 L368.79,698.49 L366.88,699.01 L364.96,699.49 L363.03,699.91 L361.09,700.22 L359.14,700.42 L357.17,700.50 L355.20,700.46 L353.24,700.32 L351.28,700.08 L349.34,699.74 L347.42,699.30 L345.52,698.77 L343.65,698.15 L341.80,697.45 L339.99,696.67 L338.23,695.78 L336.52,694.81 L334.86,693.74 L333.26,692.59 L331.73,691.35 L330.29,690.02 L328.95,688.60 L327.72,687.08 L326.61,685.47 L325.64,683.78 L324.85,682.02 L324.24,680.19 L323.84,678.30 L323.63,676.37 L323.60,674.43 L323.73,672.47 L323.99,670.52 L324.35,668.58 L324.76,666.64 L325.20,664.70 L325.66,662.77 L326.12,660.84 L326.59,658.91 L327.08,656.98 L327.59,655.06 L328.11,653.15 L328.65,651.24 L329.22,649.34 L329.83,647.45 L330.46,645.57 L331.13,643.69 L331.81,641.83 L332.49,639.96 L333.18,638.10 L333.84,636.26 L334.48,634.47 L335.06,632.82 L335.56,631.38 L335.96,630.21 L337.10,626.90 L337.10,626.90 L336.20,630.21 L335.88,631.37 L335.47,632.80 L334.98,634.44 L334.43,636.20 L333.83,638.02 L333.20,639.85 L332.57,641.68 L331.93,643.51 L331.31,645.35 L330.72,647.19 L330.17,649.05 L329.66,650.91 L329.19,652.79 L328.74,654.68 L328.30,656.56 L327.87,658.45 L327.45,660.34 L327.03,662.24 L326.61,664.13 L326.20,666.03 L325.82,667.92 L325.48,669.82 L325.23,671.73 L325.10,673.63 L325.13,675.53 L325.33,677.41 L325.73,679.26 L326.31,681.04 L327.08,682.77 L328.02,684.41 L329.09,685.99 L330.28,687.48 L331.58,688.87 L332.98,690.17 L334.48,691.37 L336.04,692.48 L337.67,693.51 L339.35,694.44 L341.07,695.27 L342.85,696.00 L344.66,696.64 L346.51,697.20 L348.38,697.67 L350.26,698.04 L352.16,698.32 L354.08,698.50 L356.00,698.58 L357.92,698.57 L359.84,698.46 L361.75,698.24 L363.65,697.92 L365.54,697.54 L367.42,697.11 L369.31,696.65 L371.18,696.18 L373.05,695.68 L374.91,695.15 L376.75,694.57 L378.58,693.93 L380.38,693.24 L382.18,692.51 L383.96,691.75 L385.73,690.97 L387.49,690.15 L389.22,689.30 L390.92,688.38 L392.59,687.40 L394.22,686.37 L395.82,685.28 L397.39,684.17 L398.94,683.01 L400.45,681.81 L401.89,680.54 L403.28,679.21 L404.60,677.81 L405.88,676.37 L407.12,674.89 L408.32,673.39 L409.47,671.85 L410.54,670.26 L411.52,668.61 L412.38,666.90 L413.15,665.14 L413.84,663.35 L414.46,661.52 L415.03,659.67 L415.54,657.81 L416.02,655.93 L416.46,654.05 L416.85,652.15 L417.18,650.25 L417.43,648.34 L417.61,646.42 L417.71,644.49 L417.76,642.56 L417.77,640.62 L417.77,638.68 L417.76,636.74 L417.74,634.80 L417.72,632.86 L417.68,630.93 L417.62,628.99 L417.54,627.05 L417.44,625.11 L417.32,623.18 L417.19,621.24 L417.05,619.31 L416.92,617.37 L416.78,615.44 L416.65,613.50 L416.53,611.57 L416.42,609.63 L416.32,607.72 L416.23,605.87 L416.16,604.15 L416.09,602.65 L416.04,601.44 L415.90,598.00 Z" fill="#eeeeec"/>
    <path d="M333.99,697.66 L332.26,696.51 L330.58,695.28 L328.97,693.96 L327.44,692.55 L326.01,691.06 L324.69,689.48 L323.51,687.79 L322.48,686.02 L321.63,684.17 L320.98,682.24 L320.54,680.26 L320.32,678.23 L320.29,676.17 L320.43,674.12 L320.72,672.07 L321.12,670.03 L321.59,667.99 L322.11,665.96 L322.64,663.94 L323.19,661.92 L323.78,659.91 L324.40,657.91 L325.06,655.92 L325.74,653.93 L326.43,651.95 L327.14,649.98 L327.86,648.01 L328.61,646.05 L329.37,644.10 L330.14,642.15 L330.93,640.21 L331.74,638.27 L332.56,636.37 L333.38,634.55 L334.16,632.87 L334.86,631.41 L335.44,630.23 L337.10,626.90" fill="none" stroke="#3a3a38" stroke-width="1.1" stroke-linecap="round"/>
    <path d="M380.64,692.05 L382.39,691.34 L384.14,690.59 L385.88,689.83 L387.60,689.04 L389.30,688.20 L390.96,687.30 L392.58,686.33 L394.16,685.29 L395.70,684.19 L397.22,683.05 L398.71,681.88 L400.15,680.67 L401.54,679.39 L402.85,678.03 L404.10,676.62 L405.29,675.15 L406.46,673.65 L407.59,672.13 L408.67,670.58 L409.68,669.00 L410.58,667.35 L411.37,665.65 L412.07,663.90 L412.69,662.11 L413.24,660.30 L413.75,658.47 L414.21,656.63" fill="none" stroke="#3a3a38" stroke-width="1.1" stroke-linecap="round"/>
    <path d="M285.8,302.5 C283.5,309 280.5,318 278.2,326 L279.8,337.3" fill="none" stroke="#8e8e8a" stroke-width="0.9"/>
    <polygon points="503,477 499.3,488.6 505.6,482" fill="#a8a8a4" stroke="#8a8a86" stroke-width="0.5"/>
    <path d="M335.9,635.6 C334.5,643 332.8,650 332.1,656.2 L335.9,666.9" fill="none" stroke="#8e8e8a" stroke-width="0.9"/>
    <path d="M376.50,199.00 C376.33,201.67 376.17,208.50 375.50,215.00 C374.83,221.50 373.00,234.17 372.50,238.00" fill="none" stroke="#c2c2be" stroke-width="6.4" stroke-linecap="round"/>
    <path d="M376.50,199.00 C376.33,201.67 376.17,208.50 375.50,215.00 C374.83,221.50 373.00,234.17 372.50,238.00" fill="none" stroke="#e2e2de" stroke-width="4" stroke-linecap="round"/>
    <path d="M376.50,199.00 C376.33,201.67 376.17,208.50 375.50,215.00 C374.83,221.50 373.00,234.17 372.50,238.00" fill="none" stroke="#c8c8c2" stroke-width="3.8" stroke-dasharray="0.7 2.6" opacity="0.4"/>
    <g transform="translate(381.50,225.25) rotate(-62.6)"><ellipse cx="0" cy="0" rx="9.10" ry="2.60" fill="#8c8c86"/><ellipse cx="0.5" cy="-0.3" rx="7.60" ry="1.50" fill="#a9a9a3"/></g>
    <g transform="translate(402.25,381.00) rotate(53.8)"><ellipse cx="0" cy="0" rx="9.55" ry="2.60" fill="#8c8c86"/><ellipse cx="0.5" cy="-0.3" rx="8.05" ry="1.50" fill="#a9a9a3"/></g>
    <g transform="translate(421.75,548.00) rotate(-58.3)"><ellipse cx="0" cy="0" rx="11.49" ry="2.60" fill="#8c8c86"/><ellipse cx="0.5" cy="-0.3" rx="9.99" ry="1.50" fill="#a9a9a3"/></g>
    <defs><linearGradient id="wrapg" x1="0" x2="1" y1="0" y2="0"><stop offset="0" stop-color="#e2f84a"/><stop offset="0.45" stop-color="#daf42a"/><stop offset="1" stop-color="#c8e214"/></linearGradient></defs>
    <clipPath id="wc1"><path d="M367.50,236.00 L369.77,236.27 L371.26,236.45 L373.00,236.71 L374.72,237.15 L376.29,237.90 L377.67,239.00 L378.88,240.34 L379.87,241.83 L380.59,243.47 L381.06,245.23 L381.41,247.03 L381.67,248.86 L381.78,250.70 L381.75,252.54 L381.63,254.38 L381.48,256.23 L381.32,258.08 L381.16,259.93 L380.97,261.77 L380.74,263.61 L380.47,265.45 L380.20,267.28 L379.92,269.12 L379.64,270.95 L379.37,272.79 L379.07,274.60 L378.65,276.30 L377.90,277.69 L376.66,278.60 L375.03,279.14 L373.25,279.50 L371.42,279.72 L369.60,279.77 L367.86,279.60 L366.42,279.09 L365.51,278.08 L365.11,276.58 L365.01,274.82 L365.00,272.98 L365.00,271.12 L365.00,269.27 L365.00,267.41 L365.00,265.56 L365.02,263.71 L365.09,261.85 L365.21,260.00 L365.36,258.16 L365.53,256.31 L365.71,254.46 L365.88,252.62 L366.05,250.77 L366.23,248.92 L366.40,247.08 L366.58,245.23 L366.76,243.38 L366.95,241.54 L367.12,239.77 L367.27,238.28 L367.50,236.00 Z"/></clipPath>
    <path d="M367.50,236.00 L369.77,236.27 L371.26,236.45 L373.00,236.71 L374.72,237.15 L376.29,237.90 L377.67,239.00 L378.88,240.34 L379.87,241.83 L380.59,243.47 L381.06,245.23 L381.41,247.03 L381.67,248.86 L381.78,250.70 L381.75,252.54 L381.63,254.38 L381.48,256.23 L381.32,258.08 L381.16,259.93 L380.97,261.77 L380.74,263.61 L380.47,265.45 L380.20,267.28 L379.92,269.12 L379.64,270.95 L379.37,272.79 L379.07,274.60 L378.65,276.30 L377.90,277.69 L376.66,278.60 L375.03,279.14 L373.25,279.50 L371.42,279.72 L369.60,279.77 L367.86,279.60 L366.42,279.09 L365.51,278.08 L365.11,276.58 L365.01,274.82 L365.00,272.98 L365.00,271.12 L365.00,269.27 L365.00,267.41 L365.00,265.56 L365.02,263.71 L365.09,261.85 L365.21,260.00 L365.36,258.16 L365.53,256.31 L365.71,254.46 L365.88,252.62 L366.05,250.77 L366.23,248.92 L366.40,247.08 L366.58,245.23 L366.76,243.38 L366.95,241.54 L367.12,239.77 L367.27,238.28 L367.50,236.00 Z" fill="url(#wrapg)" stroke="#cde418" stroke-width="0.6"/>
    <path clip-path="url(#wc1)" d="M364.0,240.2 Q373.5,238.2 383.0,240.0 M364.0,243.6 Q373.5,241.6 383.0,243.4 M364.0,247.0 Q373.5,245.0 383.0,246.8 M364.0,250.3 Q373.5,248.3 383.0,250.1 M364.0,253.7 Q373.5,251.7 383.0,253.5 M364.0,257.1 Q373.5,255.1 383.0,256.9 M364.0,260.5 Q373.5,258.5 383.0,260.3 M364.0,263.9 Q373.5,261.9 383.0,263.7 M364.0,267.3 Q373.5,265.3 383.0,267.1 M364.0,270.6 Q373.5,268.6 383.0,270.4 M364.0,274.0 Q373.5,272.0 383.0,273.8 M364.0,277.4 Q373.5,275.4 383.0,277.2" fill="none" stroke="#c6de10" stroke-width="0.7" opacity="0.8"/>
    <clipPath id="wc2"><path d="M402.50,388.50 L404.66,388.40 L406.08,388.34 L407.75,388.26 L409.49,388.20 L411.16,388.25 L412.61,388.63 L413.71,389.53 L414.51,390.89 L415.16,392.47 L415.74,394.11 L416.21,395.78 L416.52,397.49 L416.72,399.22 L416.85,400.97 L416.98,402.72 L417.10,404.46 L417.23,406.21 L417.34,407.96 L417.43,409.71 L417.48,411.46 L417.50,413.21 L417.50,414.97 L417.50,416.72 L417.50,418.47 L417.49,420.22 L417.43,421.93 L417.16,423.48 L416.45,424.73 L415.24,425.60 L413.70,426.24 L412.05,426.77 L410.36,427.17 L408.64,427.39 L406.92,427.47 L405.25,427.39 L403.82,427.02 L402.83,426.16 L402.27,424.81 L401.95,423.17 L401.72,421.44 L401.49,419.70 L401.27,417.97 L401.05,416.23 L400.83,414.49 L400.64,412.75 L400.50,411.00 L400.39,409.25 L400.31,407.50 L400.24,405.75 L400.17,404.00 L400.13,402.25 L400.18,400.51 L400.36,398.78 L400.66,397.06 L401.01,395.35 L401.38,393.64 L401.74,392.00 L402.04,390.61 L402.50,388.50 Z"/></clipPath>
    <path d="M402.50,388.50 L404.66,388.40 L406.08,388.34 L407.75,388.26 L409.49,388.20 L411.16,388.25 L412.61,388.63 L413.71,389.53 L414.51,390.89 L415.16,392.47 L415.74,394.11 L416.21,395.78 L416.52,397.49 L416.72,399.22 L416.85,400.97 L416.98,402.72 L417.10,404.46 L417.23,406.21 L417.34,407.96 L417.43,409.71 L417.48,411.46 L417.50,413.21 L417.50,414.97 L417.50,416.72 L417.50,418.47 L417.49,420.22 L417.43,421.93 L417.16,423.48 L416.45,424.73 L415.24,425.60 L413.70,426.24 L412.05,426.77 L410.36,427.17 L408.64,427.39 L406.92,427.47 L405.25,427.39 L403.82,427.02 L402.83,426.16 L402.27,424.81 L401.95,423.17 L401.72,421.44 L401.49,419.70 L401.27,417.97 L401.05,416.23 L400.83,414.49 L400.64,412.75 L400.50,411.00 L400.39,409.25 L400.31,407.50 L400.24,405.75 L400.17,404.00 L400.13,402.25 L400.18,400.51 L400.36,398.78 L400.66,397.06 L401.01,395.35 L401.38,393.64 L401.74,392.00 L402.04,390.61 L402.50,388.50 Z" fill="url(#wrapg)" stroke="#cde418" stroke-width="0.6"/>
    <path clip-path="url(#wc2)" d="M399.0,392.1 Q408.8,390.1 418.5,391.9 M399.0,395.4 Q408.8,393.4 418.5,395.2 M399.0,398.7 Q408.8,396.7 418.5,398.5 M399.0,402.0 Q408.8,400.0 418.5,401.8 M399.0,405.3 Q408.8,403.3 418.5,405.1 M399.0,408.6 Q408.8,406.6 418.5,408.4 M399.0,411.8 Q408.8,409.8 418.5,411.6 M399.0,415.1 Q408.8,413.1 418.5,414.9 M399.0,418.4 Q408.8,416.4 418.5,418.2 M399.0,421.7 Q408.8,419.7 418.5,421.5 M399.0,425.0 Q408.8,423.0 418.5,424.8" fill="none" stroke="#c6de10" stroke-width="0.7" opacity="0.8"/>
    <clipPath id="wc3"><path d="M412.00,561.00 L414.09,560.65 L415.47,560.42 L417.09,560.17 L418.74,560.00 L420.28,560.14 L421.63,560.78 L422.82,561.84 L423.88,563.13 L424.76,564.55 L425.36,566.08 L425.72,567.72 L425.93,569.41 L426.11,571.12 L426.25,572.83 L426.33,574.55 L426.31,576.26 L426.19,577.97 L426.03,579.69 L425.86,581.40 L425.69,583.11 L425.52,584.82 L425.34,586.54 L425.16,588.25 L424.95,589.96 L424.71,591.66 L424.44,593.36 L424.14,595.05 L423.77,596.67 L423.14,598.08 L422.11,599.15 L420.72,599.92 L419.14,600.49 L417.50,600.89 L415.91,601.06 L414.56,600.81 L413.63,599.97 L413.08,598.61 L412.73,597.00 L412.42,595.31 L412.13,593.61 L411.86,591.91 L411.63,590.21 L411.49,588.50 L411.40,586.78 L411.34,585.06 L411.28,583.34 L411.22,581.62 L411.16,579.90 L411.11,578.18 L411.08,576.46 L411.09,574.74 L411.16,573.02 L411.27,571.30 L411.39,569.59 L411.51,567.87 L411.63,566.15 L411.75,564.51 L411.85,563.12 L412.00,561.00 Z"/></clipPath>
    <path d="M412.00,561.00 L414.09,560.65 L415.47,560.42 L417.09,560.17 L418.74,560.00 L420.28,560.14 L421.63,560.78 L422.82,561.84 L423.88,563.13 L424.76,564.55 L425.36,566.08 L425.72,567.72 L425.93,569.41 L426.11,571.12 L426.25,572.83 L426.33,574.55 L426.31,576.26 L426.19,577.97 L426.03,579.69 L425.86,581.40 L425.69,583.11 L425.52,584.82 L425.34,586.54 L425.16,588.25 L424.95,589.96 L424.71,591.66 L424.44,593.36 L424.14,595.05 L423.77,596.67 L423.14,598.08 L422.11,599.15 L420.72,599.92 L419.14,600.49 L417.50,600.89 L415.91,601.06 L414.56,600.81 L413.63,599.97 L413.08,598.61 L412.73,597.00 L412.42,595.31 L412.13,593.61 L411.86,591.91 L411.63,590.21 L411.49,588.50 L411.40,586.78 L411.34,585.06 L411.28,583.34 L411.22,581.62 L411.16,579.90 L411.11,578.18 L411.08,576.46 L411.09,574.74 L411.16,573.02 L411.27,571.30 L411.39,569.59 L411.51,567.87 L411.63,566.15 L411.75,564.51 L411.85,563.12 L412.00,561.00 Z" fill="url(#wrapg)" stroke="#cde418" stroke-width="0.6"/>
    <path clip-path="url(#wc3)" d="M410.0,563.5 Q418.8,561.5 427.5,563.3 M410.0,566.8 Q418.8,564.8 427.5,566.6 M410.0,570.0 Q418.8,568.0 427.5,569.8 M410.0,573.2 Q418.8,571.2 427.5,573.0 M410.0,576.5 Q418.8,574.5 427.5,576.3 M410.0,579.7 Q418.8,577.7 427.5,579.5 M410.0,582.9 Q418.8,580.9 427.5,582.7 M410.0,586.1 Q418.8,584.1 427.5,585.9 M410.0,589.4 Q418.8,587.4 427.5,589.2 M410.0,592.6 Q418.8,590.6 427.5,592.4 M410.0,595.8 Q418.8,593.8 427.5,595.6 M410.0,599.1 Q418.8,597.1 427.5,598.9" fill="none" stroke="#c6de10" stroke-width="0.7" opacity="0.8"/>
    <defs><linearGradient id="barrel" x1="0" x2="1" y1="0" y2="0"><stop offset="0" stop-color="#3a3832"/><stop offset="0.2" stop-color="#575449"/><stop offset="0.5" stop-color="#5c594e"/><stop offset="0.66" stop-color="#b2ac9e"/><stop offset="0.78" stop-color="#7e7a6e"/><stop offset="0.92" stop-color="#45423a"/><stop offset="1" stop-color="#302e29"/></linearGradient><linearGradient id="ring" x1="0" x2="1" y1="0" y2="1"><stop offset="0" stop-color="#5a5750"/><stop offset="0.5" stop-color="#3a3834"/><stop offset="1" stop-color="#56534b"/></linearGradient></defs>
    <circle cx="378.1" cy="126.4" r="7.45" fill="none" stroke="url(#ring)" stroke-width="3.1"/>
    <path d="M373.5,131.5 C375.5,133.5 377,134.5 378.4,136 L380.6,134 C381.5,133 382.5,132.5 383.5,131.5" fill="none" stroke="#3e3c36" stroke-width="1.6"/>
    <rect x="376.4" y="134.5" width="4.3" height="8.5" fill="#44423b"/>
    <rect x="376.4" y="162" width="4.3" height="9" fill="#3e3c36"/>
    <path d="M371.4,144 L372.6,142.5 L385.5,142.5 L386.7,144 L386.7,162 L385.5,163.2 L372.6,163.2 L371.4,162 Z" fill="url(#barrel)"/>
    <path d="M369.6,187 C369.4,178.5 373,172.8 378.3,170.8 C383.6,172.8 387.3,178.5 387,187" fill="none" stroke="#3c3a35" stroke-width="2.6"/>
    <rect x="373.8" y="181.6" width="10.2" height="6.5" rx="1.5" fill="#dcdcd6" stroke="#c4c4be" stroke-width="0.6"/>
    <path d="M370.2,190.5 C370.2,186.8 373.5,186.3 378.8,186.3 C384,186.3 387.6,186.8 387.6,190.5 L387.2,195.5 C386.5,199.8 382.8,201.6 378.8,201.6 C374.8,201.6 371.2,199.8 370.6,195.5 Z" fill="#dededa" stroke="#bdbdb7" stroke-width="0.7"/>
    <path d="M371.5,191 C375,193.5 381,189 386.5,192.5 M372,196.5 C376,198.5 381,195 386,197.5" fill="none" stroke="#c2c2bc" stroke-width="0.8"/>
  </g>
  <!-- /product -->
</svg>
<div class="t" id="t1" style="left:523px;top:137px">Heavy-duty Rolling Swivel.</div>
<div class="t" id="t2" style="left:16px;top:248px">2X Strong, custom hooks.</div>
<div class="t" id="t3" style="left:520px;top:285px"><span style="letter-spacing:-0.68px">Japanese P.E. assist cord</span><br>with inner nylon core for an<br>added stiffness.</div>
<div class="t" id="t4" style="left:37px;top:670px">Triple hook setup.</div>
<div id="badge" style="position:absolute;left:531px;top:369px;width:126px;height:56px;box-sizing:border-box;border:1.3px solid #c8400a;border-radius:11px;background:#ffff00"></div>
<div id="hard" style="position:absolute;left:540px;top:374px;font-family:'Liberation Sans',sans-serif;font-size:38.5px;line-height:50px;color:#120200;-webkit-text-stroke:1.8px #3a0600;will-change:transform;white-space:nowrap">HARD</div>
</body></html>
